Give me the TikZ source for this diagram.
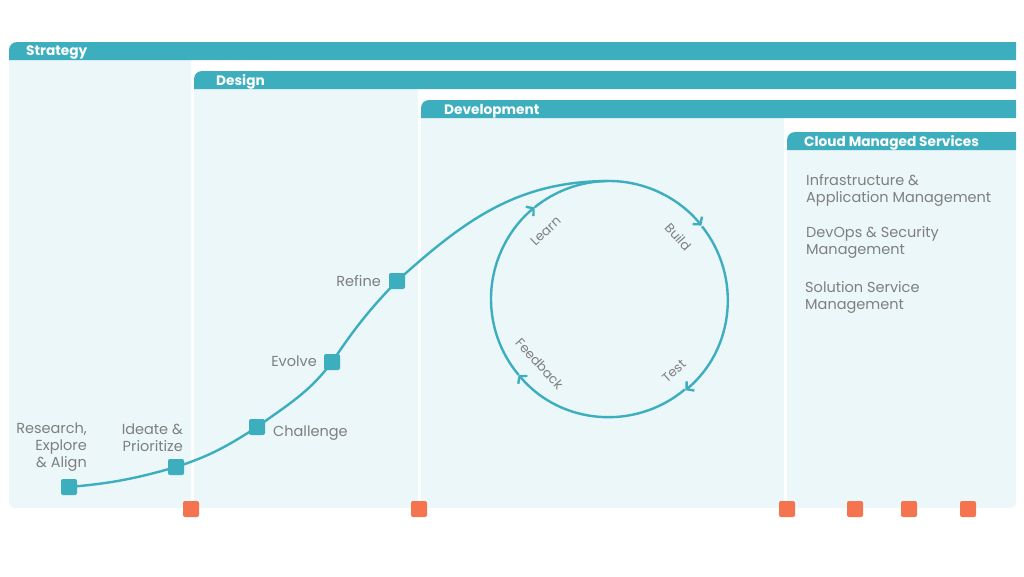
\documentclass[tikz,border=0pt]{standalone}
\usepackage{fontspec}
\setmainfont{Poppins}
\usetikzlibrary{arrows.meta}

\definecolor{cmteal}{HTML}{3DAEBE}
\definecolor{cmlight}{HTML}{EBF7F8}
\definecolor{cmgrey}{HTML}{7F7F7F}
\definecolor{cmorange}{HTML}{F4744F}

\tikzset{
  stage/.style={fill=cmteal, inner sep=0pt, minimum size=16pt, rounded corners=2pt},
  orangebox/.style={fill=cmorange, inner sep=0pt, minimum size=16pt, rounded corners=2pt},
  flow/.style={draw=cmteal, line width=2.4pt},
  headtext/.style={anchor=west, text=white, font=\fontsize{13.7}{16}\selectfont\bfseries, inner sep=0pt},
  lbl/.style={text=cmgrey, font=\fontsize{14.5}{17}\selectfont, inner sep=0pt},
  looplbl/.style={text=cmgrey, font=\fontsize{13}{15}\selectfont, inner sep=0pt}
}

\begin{document}
\begin{tikzpicture}[x=1pt, y=1pt]
    \useasboundingbox (0,0) rectangle (1024,-576);

    \fill[cmlight] (191,-52) -- (9,-52) -- (9,-502) arc[start angle=180, end angle=270, radius=6pt] -- (191,-508) -- cycle;
    \fill[cmlight] (194,-80) rectangle (418,-508);
    \fill[cmlight] (421,-110) rectangle (784,-508);
    \fill[cmlight] (787,-140) -- (1016,-140) -- (1016,-502) arc[start angle=0, end angle=-90, radius=6pt] -- (787,-508) -- cycle;

    \foreach \hx/\hy in {9/42, 194/71, 421/100, 787/132}
      \fill[cmteal] (\hx,-\hy-18) -- (\hx,-\hy-8) arc[start angle=180, end angle=90, radius=8pt] -- (1016,-\hy) -- (1016,-\hy-18) -- cycle;

    \node[headtext] (strategy) at (26,-53) {Strategy};
    \node[headtext] (design) at (216,-82) {Design};
    \node[headtext] (development) at (444,-111) {Development};
    \node[headtext] (cloud) at (804,-143) {Cloud Managed Services};

    \node[stage] (research) at (69,-487) {};
    \node[stage] (ideate) at (176,-467) {};
    \node[stage] (challenge) at (257,-427) {};
    \node[stage] (evolve) at (332,-362) {};
    \node[stage] (refine) at (397,-281) {};
    \node[circle, inner sep=0pt, outer sep=0pt, minimum size=236pt] (loop) at (609,-299) {};

    \draw[flow] (research.center) to[out=5, in=196] (ideate.center) to[out=18, in=213] (challenge.center)
      to[out=36, in=233] (evolve.center) to[out=56, in=226] (refine.center) to[out=42, in=180] (loop.north);

    \draw[flow, -{Straight Barb[length=5pt, width=12pt]}] (loop.129) arc[start angle=129, end angle=38.5, radius=118pt];
    \draw[flow, -{Straight Barb[length=5pt, width=12pt]}] (loop.38.5) arc[start angle=38.5, end angle=-50, radius=118pt];
    \draw[flow, -{Straight Barb[length=5pt, width=12pt]}] (loop.-50) arc[start angle=-50, end angle=-140, radius=118pt];
    \draw[flow, -{Straight Barb[length=5pt, width=12pt]}] (loop.-140) arc[start angle=-140, end angle=-231, radius=118pt];

    \node[looplbl, rotate=43] (learn) at ([shift={(133:93pt)}]loop.center) {Learn};
    \node[looplbl, rotate=-48] (build) at ([shift={(42:93pt)}]loop.center) {Build};
    \node[looplbl, rotate=42] (test) at ([shift={(-48:97pt)}]loop.center) {Test};
    \node[looplbl, rotate=-48] (feedback) at ([shift={(223:95pt)}]loop.center) {Feedback};

    \node[lbl, align=right, anchor=east] (researchlbl) at (87,-447) {Research,\\Explore\\\& Align};
    \node[lbl, align=right, anchor=east] (ideatelbl) at (183,-438) {Ideate \&\\Prioritize};
    \node[lbl, anchor=west] (challengelbl) at (273,-433) {Challenge};
    \node[lbl, anchor=east] (evolvelbl) at (317,-361) {Evolve};
    \node[lbl, anchor=east] (refinelbl) at (381,-281) {Refine};

    \node[lbl, align=left, anchor=west] (infra) at (806,-190) {Infrastructure \&\\Application Management};
    \node[lbl, align=left, anchor=west] (devops) at (806,-242) {DevOps \& Security\\Management};
    \node[lbl, align=left, anchor=west] (solution) at (805,-297) {Solution Service\\Management};

    \foreach \ox [count=\i] in {191,419,787,855,909,968}
      \node[orangebox] (o\i) at (\ox,-509) {};
\end{tikzpicture}
\end{document}
